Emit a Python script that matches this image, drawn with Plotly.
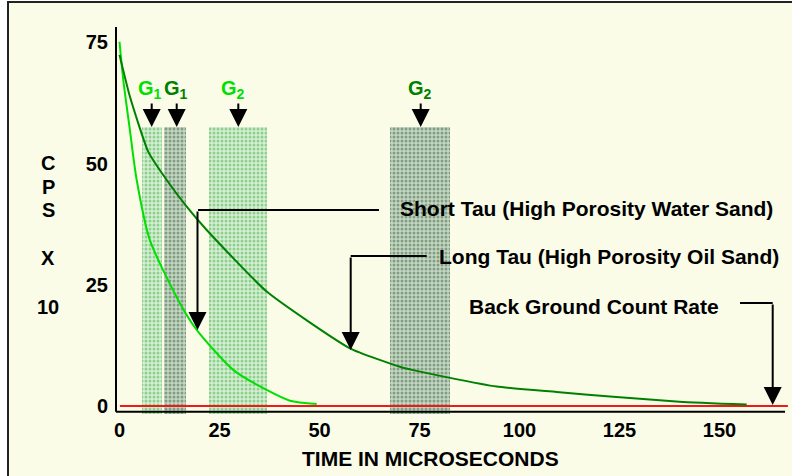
import plotly.graph_objects as go

# ---------------- data ----------------
time_short = [0, 0.95, 2.6, 4.3, 7.6, 15.1, 19.3, 28.5, 36.8, 42.6, 49.3]
cps_short = [75.1, 67.2, 56.9, 46.6, 34.2, 21.2, 15.7, 7.4, 3.3, 1.1, 0.4]

time_long = [0, 2.6, 7.2, 11.8, 16.8, 21.8, 36.8, 57.6, 70.1, 73.4, 82.6, 94.3, 109.3, 123.4, 140.0, 156.8]
cps_long = [72.4, 63.8, 52.4, 46.6, 41.1, 36.3, 23.6, 11.9, 8.1, 7.4, 5.8, 4.0, 2.9, 1.9, 0.9, 0.3]

background_time = [0.1, 167.1]
background_cps = [0, 0]

gate_labels = ["G<sub>1</sub>", "G<sub>1</sub>", "G<sub>2</sub>", "G<sub>2</sub>"]
gate_start = [5.55, 11.1, 22.4, 67.6]
gate_end = [10.55, 16.55, 36.95, 82.6]
gate_top = [57.6, 57.6, 57.6, 57.6]
gate_bottom = -1.7
gate_dark = [False, True, False, True]

x_ticks = [0, 25, 50, 75, 100, 125, 150]
y_ticks = [0, 25, 50, 75]

# ---------------- layout geometry ----------------
W, H = 792, 476
L, R, T, B = 116, 4, 27, 60
PW, PH = W - L - R, H - T - B
X0PX, XPX = 119.5, 4.0      # pixel of x=0, px per unit
Y0PX, YPX = 406.0, 4.85     # pixel of y=0, px per unit
x_range = [(L - X0PX) / XPX, (W - R - X0PX) / XPX]
y_range = [(Y0PX - (H - B)) / YPX, (Y0PX - T) / YPX]


def px(x):
    return (x - L) / PW


def py(y):
    return (H - B - y) / PH


FONT = "Liberation Sans, Arial, sans-serif"
LIGHT = "#00E000"
DARK = "#008000"
BG = "#FAFCE8"

fig = go.Figure()

# gates as patterned bars
for dark in (False, True):
    idx = [i for i in range(len(gate_start)) if gate_dark[i] == dark]
    fig.add_trace(go.Bar(
        x=[(gate_start[i] + gate_end[i]) / 2 for i in idx],
        width=[gate_end[i] - gate_start[i] for i in idx],
        y=[gate_top[i] - gate_bottom for i in idx],
        base=gate_bottom,
        marker=dict(
            color="#A8C8A8" if dark else "#C4E6C4",
            line=dict(width=0),
            pattern=dict(shape=".", size=4, solidity=0.45,
                         fgcolor="#7F9F7F" if dark else "#8ED08E",
                         bgcolor="#C6D6C6" if dark else "#D6EFD4",
                         fillmode="replace"),
        ),
        showlegend=False, hoverinfo="skip",
    ))

fig.add_trace(go.Scatter(x=background_time, y=background_cps, mode="lines",
                         line=dict(color="#F01818", width=2), showlegend=False))
fig.add_trace(go.Scatter(x=time_short, y=cps_short, mode="lines",
                         line=dict(color=LIGHT, width=2, shape="spline", smoothing=0.7),
                         showlegend=False))
fig.add_trace(go.Scatter(x=time_long, y=cps_long, mode="lines",
                         line=dict(color=DARK, width=2, shape="spline", smoothing=0.5),
                         showlegend=False))

shapes = [
    # page frame / background
    dict(type="rect", xref="paper", yref="paper", x0=px(8), x1=px(900), y0=py(600), y1=py(2),
         fillcolor=BG, line=dict(color="#222222", width=2), layer="below"),
    # axis lines
    dict(type="line", xref="paper", yref="paper", x0=px(116), x1=px(116), y0=py(411.7), y1=py(27),
         line=dict(color="black", width=2)),
    dict(type="line", xref="paper", yref="paper", x0=px(116), x1=px(785), y0=py(411.7), y1=py(411.7),
         line=dict(color="black", width=2)),
    # callout horizontal legs
    dict(type="line", xref="paper", yref="paper", x0=px(198), x1=px(379), y0=py(210), y1=py(210),
         line=dict(color="black", width=2)),
    dict(type="line", xref="paper", yref="paper", x0=px(350.7), x1=px(426.7), y0=py(256), y1=py(256),
         line=dict(color="black", width=2)),
    dict(type="line", xref="paper", yref="paper", x0=px(740), x1=px(772.7), y0=py(303), y1=py(303),
         line=dict(color="black", width=2)),
]

ann = []


def text(t, x, y, xanchor="center", size=21, color="black"):
    ann.append(dict(text=t, xref="paper", yref="paper", x=px(x), y=py(y), xanchor=xanchor,
                    yanchor="middle", showarrow=False,
                    font=dict(family=FONT, size=size, color=color, weight="bold")))


def arrow(x, y, dy):
    ann.append(dict(text="", xref="paper", yref="paper", x=px(x), y=py(y), ax=0, ay=-dy,
                    axref="pixel", ayref="pixel", showarrow=True, arrowhead=2, arrowsize=1.8,
                    arrowwidth=2, arrowcolor="black", standoff=0, startstandoff=0))


# gate labels & arrows
g_label_px = [150, 176, 232.5, 419.7]
g_arrow_px = [151.7, 176.7, 238.3, 420.7]
for i, lab in enumerate(gate_labels):
    text(lab, g_label_px[i], 89, size=20, color=DARK if gate_dark[i] else LIGHT)
    arrow(g_arrow_px[i], 127, 25)

# callouts
text("Short Tau (High Porosity Water Sand)", 775, 209, xanchor="right")
arrow(197.5, 330, 120)
text("Long Tau (High Porosity Oil Sand)", 437, 256.5, xanchor="left")
arrow(350.7, 350, 94)
text("Back Ground Count Rate", 467, 306, xanchor="left")
arrow(772.7, 405, 102)

# axis titles
text("TIME IN MICROSECONDS", 430, 458)
for t, y in [("C", 163), ("P", 187), ("S", 210), ("X", 257.5), ("10", 306.5)]:
    text(t, 48, y, size=20)

fig.update_layout(
    width=W, height=H,
    margin=dict(l=L, r=R, t=T, b=B, pad=0, autoexpand=False),
    paper_bgcolor="white", plot_bgcolor=BG,
    barmode="overlay", bargap=0,
    shapes=shapes, annotations=ann,
    font=dict(family=FONT, size=20, color="black"),
    xaxis=dict(range=x_range, tickvals=x_ticks, showgrid=False, zeroline=False, showline=False,
               automargin=False, ticks="",
               tickfont=dict(family=FONT, size=20, color="black", weight="bold")),
    yaxis=dict(range=y_range, tickvals=y_ticks, showgrid=False, zeroline=False, showline=False,
               automargin=False,
               ticks="outside", ticklen=3, tickcolor="rgba(0,0,0,0)",
               tickfont=dict(family=FONT, size=20, color="black", weight="bold")),
)

fig.write_html("out.html", config={"displayModeBar": False},
               post_script="document.body.style.margin='0px';document.body.style.overflow='hidden';")
